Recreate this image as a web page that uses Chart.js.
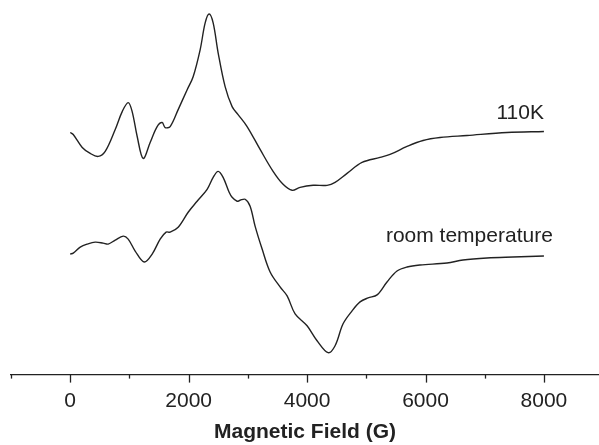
<!DOCTYPE html>
<html>
<head>
<meta charset="utf-8">
<script src="https://cdn.jsdelivr.net/npm/chart.js@4"></script>
<style>
  html, body { margin: 0; padding: 0; background: #fff; }
  #wrap { width: 599px; height: 445px; }
</style>
</head>
<body>
<div id="wrap"><canvas id="myChart" width="599" height="445"></canvas></div>
<script>
// EPR spectra, field in gauss, intensity in arbitrary units (curves offset)
const field110K = [0, 51, 203, 338, 473, 591, 760, 878, 979, 1046, 1131, 1232, 1350, 1468, 1553, 1603, 1688, 1823, 1975, 2076, 2194, 2279, 2346, 2414, 2498, 2616, 2734, 2835, 2987, 3207, 3426, 3595, 3747, 3882, 4102, 4338, 4473, 4675, 4928, 5232, 5401, 5688, 5958, 6245, 6701, 7376, 8000];
const signal110K = [243, 241, 228, 222, 219, 224, 246, 264, 273, 264, 239, 217, 233, 249, 253, 248, 249, 266, 286, 299, 326, 353, 362, 353, 323, 289, 269, 261, 249, 226, 204, 191, 185, 188, 190, 190, 193, 202, 213, 218, 221, 229, 235, 238, 240, 243, 244];

const fieldRT = [0, 51, 169, 287, 422, 557, 641, 760, 895, 979, 1097, 1249, 1384, 1519, 1620, 1688, 1823, 1992, 2143, 2312, 2414, 2498, 2582, 2684, 2734, 2819, 2869, 2954, 3038, 3122, 3241, 3376, 3544, 3663, 3798, 4000, 4169, 4355, 4473, 4608, 4760, 4895, 5030, 5182, 5350, 5519, 5688, 5907, 6363, 6633, 7038, 7477, 8000];
const signalRT = [121, 122, 128, 131, 133, 132, 131, 135, 139, 136, 124, 113, 121, 136, 143, 143, 148, 163, 174, 186, 198, 204, 198, 183, 178, 174, 175, 176, 169, 149, 126, 103, 88, 79, 61, 49, 34, 22, 29, 51, 64, 73, 77, 80, 93, 104, 108, 110, 112, 115, 117, 118, 119];

const tickValues = [-1000, 0, 1000, 2000, 3000, 4000, 5000, 6000, 7000, 8000];
const labelText = ['110K', 'room temperature'];
const labelAt = [[8000, 262], [8150, 139]];

const ink = '#222';
const fontFam = '"Liberation Sans", Arial, Helvetica, sans-serif';

function toPoints(xs, ys) {
    return xs.map((x, i) => ({ x: x, y: ys[i] }));
}

// tick marks: long at labelled values, short in between
const tickMarks = {
    id: 'tickMarks',
    afterDraw(chart) {
        const c = chart.ctx;
        const xs = chart.scales.x;
        const y0 = chart.chartArea.bottom;
        c.save();
        c.strokeStyle = ink;
        c.lineWidth = 1.3;
        tickValues.forEach(v => {
            const px = Math.round(xs.getPixelForValue(v)) + 0.5;
            const len = (v % 2000 === 0) ? 8 : 4;
            c.beginPath();
            c.moveTo(px, y0);
            c.lineTo(px, y0 + len);
            c.stroke();
        });
        // curve labels
        c.fillStyle = ink;
        c.font = '21px ' + fontFam;
        c.textAlign = 'right';
        c.textBaseline = 'middle';
        labelText.forEach((t, i) => {
            const px = xs.getPixelForValue(labelAt[i][0]);
            const py = chart.scales.y.getPixelForValue(labelAt[i][1]);
            c.fillText(t, px, py);
        });
        c.restore();
    }
};

const ctx = document.getElementById('myChart').getContext('2d');
const myChart = new Chart(ctx, {
    type: 'line',
    data: {
        datasets: [{
            label: '110K',
            data: toPoints(field110K, signal110K),
            borderColor: ink,
            borderWidth: 1.4,
            pointRadius: 0,
            tension: 0.35,
            fill: false
        }, {
            label: 'room temperature',
            data: toPoints(fieldRT, signalRT),
            borderColor: ink,
            borderWidth: 1.4,
            pointRadius: 0,
            tension: 0.35,
            fill: false
        }]
    },
    options: {
        responsive: false,
        animation: false,
        layout: { padding: { top: 6, left: 11, right: 0, bottom: 0 } },
        plugins: {
            legend: { display: false },
            tooltip: { enabled: false }
        },
        scales: {
            x: {
                type: 'linear',
                min: -1000,
                max: 8930,
                afterBuildTicks: scale => {
                    scale.ticks = tickValues.map(v => ({ value: v }));
                },
                ticks: {
                    color: ink,
                    font: { family: fontFam, size: 21 },
                    padding: 6,
                    maxRotation: 0,
                    autoSkip: false,
                    callback: v => (v >= 0 && v % 2000 === 0) ? String(v) : ''
                },
                grid: {
                    display: true,
                    drawOnChartArea: false,
                    drawTicks: true,
                    tickLength: 8,
                    tickColor: 'rgba(0,0,0,0)',
                    color: 'rgba(0,0,0,0)'
                },
                border: { display: true, color: ink, width: 1.3 },
                title: {
                    display: true,
                    text: 'Magnetic Field (G)',
                    color: ink,
                    font: { family: fontFam, size: 21, weight: 'bold' },
                    padding: { top: 0, bottom: 0 }
                }
            },
            y: {
                display: false,
                min: 0,
                max: 370
            }
        }
    },
    plugins: [tickMarks]
});
</script>
</body>
</html>
